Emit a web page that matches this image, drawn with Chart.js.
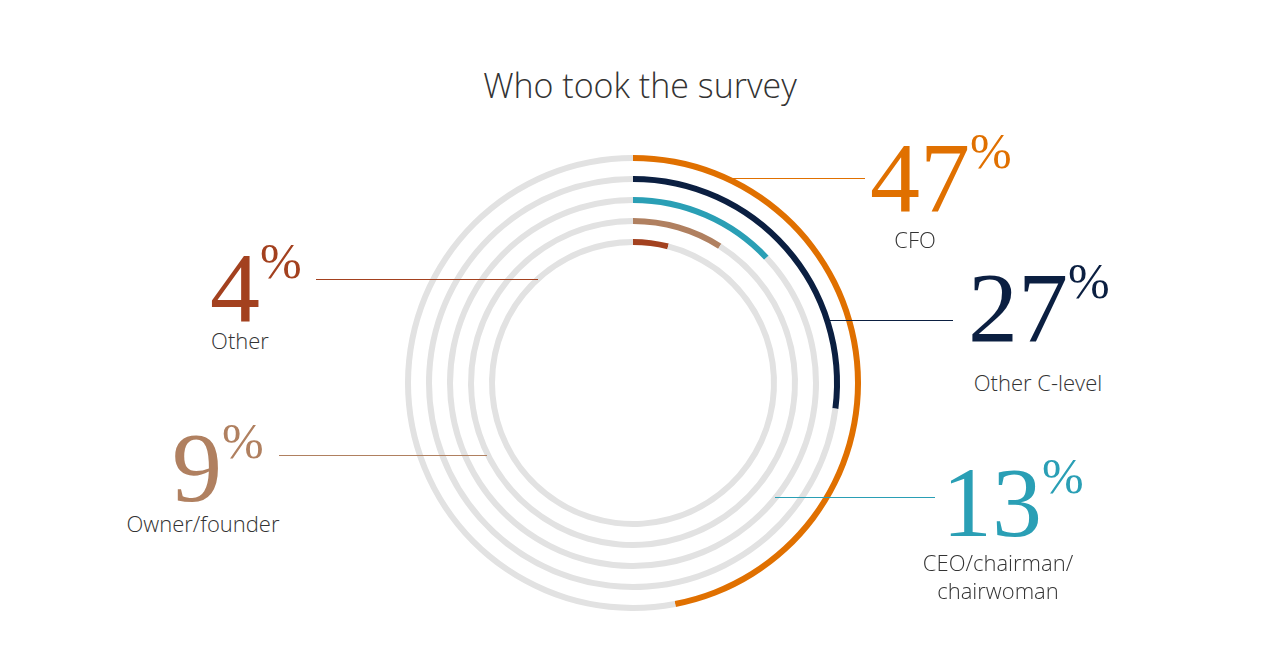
<!DOCTYPE html>
<html><head><meta charset="utf-8">
<script src="https://cdn.jsdelivr.net/npm/chart.js@4.4.0/dist/chart.umd.min.js"></script>
<style>
body{margin:0;width:1280px;height:653px;background:#fff;position:relative;overflow:hidden;font-family:"Open Sans",sans-serif;}
#wrap{position:absolute;left:405px;top:155px;width:456px;height:456px;}
.t{position:absolute;white-space:nowrap;line-height:1;}
.num{font-family:"Liberation Serif",serif;font-size:100px;}
.pct{font-family:"Liberation Serif",serif;font-size:50px;vertical-align:top;position:relative;top:-2px;}
.lab{font-size:22px;color:#333;text-align:center;line-height:28px;font-weight:300;}
.ln{position:absolute;height:1px;}
</style></head><body>
<div class="t" style="left:0;width:1280px;top:68px;text-align:center;font-size:34px;color:#333;font-weight:300;">Who took the survey</div>
<div id="wrap"><canvas id="c"></canvas></div>
<script>
const categories=["CFO","Other C-level","CEO/chairman/chairwoman","Owner/founder","Other"];
const values=[47,27,13,9,4];
const colors=["#e07000","#0b1f41","#2a9fb5","#b08060","#a3411f"];
const trackColor="#e2e2e2";
const datasets=[];
values.forEach((v,i)=>{
  if(i>0) datasets.push({data:[100],backgroundColor:["rgba(0,0,0,0)"],borderWidth:0,weight:15});
  datasets.push({label:categories[i],data:[v,100-v],backgroundColor:[colors[i],trackColor],borderWidth:0,weight:6});
});
new Chart(document.getElementById('c'),{type:'doughnut',data:{labels:["value","rest"],datasets},
options:{responsive:true,maintainAspectRatio:false,animation:false,cutout:138/228*100+'%',
plugins:{legend:{display:false},tooltip:{enabled:false}},layout:{padding:0}}});
const labels=[
 {i:0,x:870,y:128,lx1:727,lx2:865,ly:178,tx:915,ty:225,text:"CFO"},
 {i:1,x:968,y:258,lx1:830,lx2:953,ly:320,tx:1038,ty:368,text:"Other C-level"},
 {i:2,x:942,y:453,lx1:775,lx2:935,ly:497,tx:998,ty:548,text:"CEO/chairman/<br>chairwoman"},
 {i:4,x:210,y:238,lx1:316,lx2:538,ly:279,tx:240,ty:326,text:"Other"},
 {i:3,x:172,y:418,lx1:279,lx2:487,ly:455,tx:203,ty:509,text:"Owner/founder"}
];
labels.forEach(l=>{
 const c=colors[l.i];
 document.body.insertAdjacentHTML('beforeend',
  `<div class="t" style="left:${l.x}px;top:${l.y}px;color:${c}"><span class="num">${values[l.i]}</span><span class="pct">%</span></div>
   <div class="ln" style="left:${l.lx1}px;width:${l.lx2-l.lx1}px;top:${l.ly}px;background:${c}"></div>
   <div class="t lab" style="left:${l.tx-150}px;width:300px;top:${l.ty}px">${l.text}</div>`);
});
</script>
</body></html>
